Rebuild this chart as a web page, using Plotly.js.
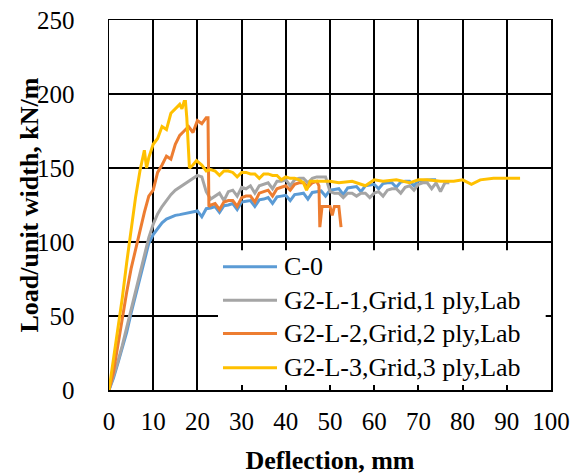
<!DOCTYPE html>
<html>
<head>
<meta charset="utf-8">
<script src="https://cdn.plot.ly/plotly-3.0.1.min.js"></script>
<style>html,body{margin:0;padding:0;background:#fff;}#chart{width:578px;height:475px;}</style>
</head>
<body>
<div id="chart"></div>
<script>
var seriesNames = ["C-0", "G2-L-1,Grid,1 ply,Lab", "G2-L-2,Grid,2 ply,Lab", "G2-L-3,Grid,3 ply,Lab"];
var seriesColors = ["#5B9BD5", "#A5A5A5", "#ED7D31", "#FFC000"];

var c0X = [0,1,2,3,4,5,6,7,8,9,10,11,12,13,14,15,16,17,18,19,20,21,22,23,24,25,26,27,28,29,30,31,32,33,34,35,36,37,38,39,40,41,42,43,44,45,46,47,48,49,50,51,52,53,54,55,56,57,58,59,60,61,62,63,64,65,66,67,68,69,70,71,72,73,74];
var c0Y = [0,8,18,28,39,52,64,77,89,99,105,109,113,115.5,117,118,118.5,119,119.5,120,121,117,122.5,123,124,120,124.5,125,126,122,127,127.5,128,124,128.5,129,130,126,130.5,131,131.5,128,132,132.5,133,129,133.5,134,134.5,131,135,135.5,136,132,136.5,137,137.5,134,138,138.5,139,136,139.5,140,140,137,140.5,141,141,138,141.5,141.5,142,142,142];

var g1X = [0,1,2,3,4,5,6,7,8,9,10,11,12,13,14,15,16,17,18,19,20,21,22,23,24,25,26,27,28,29,30,31,32,33,34,35,36,37,38,39,40,41,42,43,44,45,46,47,48,49,50,51,52,53,54,55,56,57,58,59,60,61,62,63,64,65,66,67,68,69,70,71,72,73,74,75,76,77];
var g1Y = [0,9,19,30,42,56,67,80,92,103,112,119,124,128,132,135,137,139,141,143,145,144,134,129,131,133,128,134,135,131,137,136,138,133,138,139,140,136,141,141,142,138,142,143,143,140,143,144,144,144,134,133,133,130,133,133,131,133,133,130,133,134,131,135,136,136,133,137,138,135,139,140,140,136,140,134,140,140];

var g2X = [0,1,2,3,4,5,6,7,8,9,10,11,12,13,14,15,16,17,18,19,20,21,22,22.4,22.6,23,24,25,26,27,28,29,30,31,32,33,34,35,36,37,38,39,40,41,42,43,44,45,46,47,47.5,47.7,48.2,49,50,50.5,51,52,52.5];
var g2Y = [0,12,30,49,66,82,95,108,120,131,135,147,152,158,156,166,172,175,178,174,182,180,184,184,124,125,126,122,127,128,128,124,130,131,131,127,133,134,135,131,136,137,138,135,139,140,140,137,140,141,138,110,124,124,124,118,124,124,110];

var g3X = [0,1,2,3,4,5,6,7,7.5,8,8.5,9,10,11,12,13,14,15,16,16.5,17,17.3,17.6,18.2,19,19.8,21,22,23,24,25,26,27,28,29,30,31,32,33,34,35,36,37,38,39,40,41,42,43,44,44.7,45.5,47,50,52,55,58,60,62,65,68,70,72,75,78,80,82,84,87,90,93];
var g3Y = [0,20,40,62,86,110,130,148,155,162,150,157,166,170,178,176,187,190,193,190,195,195,184,150,152,155,152,148,149,148,145,148,148,147,144,147,147,146,146,143,146,146,145,145,142,144,143,143,142,140,135,141,141,141,140,141,138,142,141,142,140,142,142,141,141,142,139,142,143,143,143];

var xs = [c0X, g1X, g2X, g3X];
var ys = [c0Y, g1Y, g2Y, g3Y];

var traces = seriesNames.map(function(n, i){
  return {x: xs[i], y: ys[i], name: n, type: 'scatter', mode: 'lines',
          line: {color: seriesColors[i], width: 3}};
});

var font = "Liberation Serif, Times New Roman, serif";

var legRowY = [0.3328, 0.2429, 0.1530, 0.0602];
var shapes = [{type: 'rect', xref: 'paper', yref: 'paper', x0: 0.2466, x1: 0.988, y0: 0.0135, y1: 0.378,
               fillcolor: '#fff', line: {width: 0}, layer: 'above'}];
var annotations = [];
seriesNames.forEach(function(n, i){
  shapes.push({type: 'line', xref: 'paper', yref: 'paper', x0: 0.2579, x1: 0.3801, y0: legRowY[i], y1: legRowY[i],
               line: {color: seriesColors[i], width: 3}, layer: 'above'});
  annotations.push({xref: 'paper', yref: 'paper', x: 0.3914, y: legRowY[i], xanchor: 'left', yanchor: 'middle',
                    text: n, showarrow: false, font: {family: font, size: 26, color: '#000'}});
});
annotations.push({xref: 'paper', yref: 'paper', x: -0.182, y: 0.5, xanchor: 'center', yanchor: 'middle',
                  textangle: -90, text: '<b>Load/unit width, kN/m</b>', showarrow: false,
                  font: {family: font, size: 26, color: '#000'}});

var layout = {
  width: 578, height: 475,
  margin: {l: 109, r: 27, t: 20, b: 85},
  paper_bgcolor: '#fff', plot_bgcolor: '#fff',
  font: {family: font, size: 25, color: '#000'},
  showlegend: false,
  shapes: shapes,
  annotations: annotations,
  xaxis: {range: [0, 100], dtick: 10, tick0: 0, showgrid: true, gridcolor: '#000', gridwidth: 2,
          zeroline: false, showline: true, linecolor: '#000', linewidth: 1.5, mirror: 'ticks',
          ticks: 'inside', ticklen: 5, tickcolor: '#000', tickwidth: 1.5,
          ticklabelstandoff: 8,
          title: {text: '<b>Deflection, mm</b>', font: {family: font, size: 26}, standoff: 17}},
  yaxis: {range: [0, 250], dtick: 50, tick0: 0, showgrid: true, gridcolor: '#000', gridwidth: 2,
          zeroline: false, showline: true, linecolor: '#000', linewidth: 1.5, mirror: 'ticks',
          ticks: 'inside', ticklen: 5, tickcolor: '#000', tickwidth: 1.5,
          ticklabelstandoff: 28}
};
Plotly.newPlot('chart', traces, layout, {displayModeBar: false, staticPlot: true});
</script>
</body>
</html>
